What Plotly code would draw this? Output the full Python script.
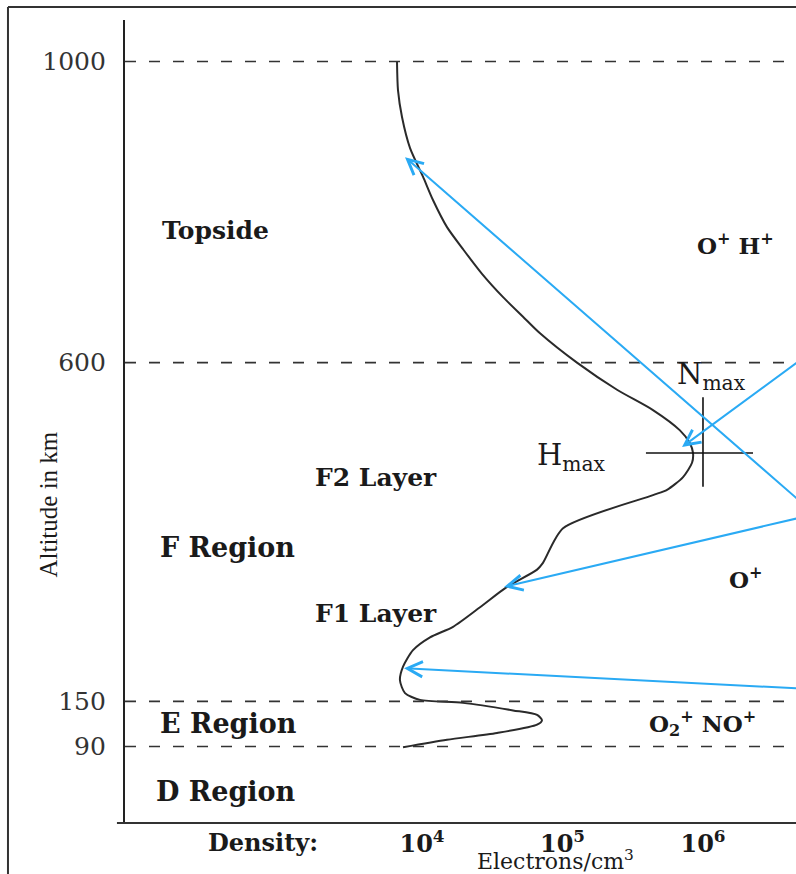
import plotly.graph_objects as go

# Electron density profile of the ionosphere (altitude vs log10 density)
ALT_KM = [1000, 962, 926, 885, 847, 816, 780, 750, 718, 687,
          661, 639, 600, 564, 537, 510, 493, 480, 467, 448,
          431, 424, 380, 334, 325, 302, 275, 249, 235, 218,
          196, 178, 161, 152, 148, 138, 132, 125, 119, 108,
          99, 89]
LOG_NE = [3.822, 3.829, 3.858, 3.915, 4.007, 4.078, 4.178, 4.295, 4.427, 4.577,
          4.719, 4.840, 5.103, 5.388, 5.644, 5.836, 5.907, 5.929, 5.922, 5.858,
          5.744, 5.644, 5.004, 4.861, 4.819, 4.605, 4.413, 4.221, 4.057, 3.936,
          3.865, 3.843, 3.879, 3.986, 4.292, 4.648, 4.819, 4.854, 4.819, 4.534,
          4.178, 3.865]

# Region boundaries (km)
BOUNDARIES = [1000, 600, 150, 90]
BOUNDARY_LABELS = ["1000", "600", "150", "90"]

# Density decades on the x axis
DECADES = [1e4, 1e5, 1e6]
DECADE_LABELS = ["<b>10<sup>4</sup></b>", "<b>10<sup>5</sup></b>", "<b>10<sup>6</sup></b>"]

# Peak of the F2 layer
N_MAX = 1e6
H_MAX = 480

# Pointer arrows: tip (log10 density, km) and tail (log10 density, km)
ARROW_TIP_LOG = [3.879, 5.851, 4.584, 3.872]
ARROW_TIP_KM = [873, 488, 302, 194]
ARROW_TAIL_LOG = [6.69, 6.69, 6.69, 6.69]
ARROW_TAIL_KM = [416, 603, 394, 167]

SERIF = "DejaVu Serif"
INK = "#2a2a2a"
BLUE = "#2aaaf4"

fig = go.Figure()

# Profile curve
fig.add_trace(go.Scatter(
    x=[10 ** v for v in LOG_NE], y=ALT_KM, mode="lines",
    line=dict(color=INK, width=2, shape="spline", smoothing=0.7),
    hoverinfo="skip", showlegend=False))

# Nmax / Hmax cross
fig.add_trace(go.Scatter(
    x=[N_MAX, N_MAX], y=[H_MAX - 45, H_MAX + 74], mode="lines",
    line=dict(color="#111", width=1.6), hoverinfo="skip", showlegend=False))
fig.add_trace(go.Scatter(
    x=[N_MAX * 10 ** -0.406, N_MAX * 10 ** 0.356], y=[H_MAX, H_MAX], mode="lines",
    line=dict(color="#111", width=1.6), hoverinfo="skip", showlegend=False))

shapes = []
for b in BOUNDARIES:
    shapes.append(dict(type="line", xref="paper", yref="y", x0=0, x1=1, y0=b, y1=b,
                       line=dict(color="#333", width=1.6, dash="11px,13px")))
# x axis baseline (slightly overshooting the y axis)
shapes.append(dict(type="line", xref="paper", yref="paper", x0=-0.012, x1=1, y0=0, y1=0,
                   line=dict(color="#333", width=2.2)))
# outer frame
shapes.append(dict(type="line", xref="paper", yref="paper", x0=-0.1744, x1=-0.1744,
                   y0=1.0162, y1=-0.07, line=dict(color="#333", width=2)))
shapes.append(dict(type="line", xref="paper", yref="paper", x0=-0.1744, x1=1.01,
                   y0=1.0162, y1=1.0162, line=dict(color="#333", width=2)))

ann = []


def label(text, x, y, size, xanchor="left", bold=True, color="#1a1a1a"):
    ann.append(dict(text=f"<b>{text}</b>" if bold else text, x=x, y=y, xref="x", yref="y",
                    xanchor=xanchor, yanchor="middle", showarrow=False,
                    font=dict(family=SERIF, size=size, color=color)))


label("Topside", 2.135, 775, 25)
label("F2 Layer", 3.224, 447, 25)
label("F Region", 2.121, 355, 27)
label("F1 Layer", 3.224, 267, 25)
label("E Region", 2.121, 120, 27)
label("D Region", 2.093, 30, 27)
label("O<sup>+</sup> H<sup>+</sup>", 6.228, 758, 23, xanchor="center")
label("O<sup>+</sup>", 6.306, 314, 23, xanchor="center")
label("O<sub>2</sub><sup>+</sup> NO<sup>+</sup>", 5.993, 121, 23, xanchor="center")
label("N<sub>max</sub>", 5.800, 582, 29, bold=False)
label("H<sub>max</sub>", 4.805, 475, 29, bold=False)

for tl, tk, al, ak in zip(ARROW_TIP_LOG, ARROW_TIP_KM, ARROW_TAIL_LOG, ARROW_TAIL_KM):
    ann.append(dict(x=tl, y=tk, xref="x", yref="y", ax=al, ay=ak, axref="x", ayref="y",
                    text="", showarrow=True, arrowhead=5, arrowsize=1.5, arrowwidth=2,
                    arrowcolor=BLUE, standoff=0))

ann.append(dict(text="<b>Density:</b>", x=0.2057, y=-0.0249, xref="paper", yref="paper",
                xanchor="center", yanchor="middle", showarrow=False,
                font=dict(family=SERIF, size=24, color="#1a1a1a")))
ann.append(dict(text="Electrons/cm<sup>3</sup>", x=0.6423, y=-0.0455, xref="paper", yref="paper",
                xanchor="center", yanchor="middle", showarrow=False,
                font=dict(family=SERIF, size=22, color="#1a1a1a")))
ann.append(dict(text="Altitude in km", x=-0.114, y=0.396, xref="paper", yref="paper",
                xanchor="center", yanchor="middle", showarrow=False, textangle=-90,
                font=dict(family="Liberation Serif", size=25, color="#1a1a1a")))

fig.update_layout(
    width=796, height=874,
    margin=dict(l=125, r=0, t=20, b=51),
    paper_bgcolor="white", plot_bgcolor="white",
    shapes=shapes, annotations=ann, showlegend=False,
    xaxis=dict(type="log", range=[1.886, 6.662], showgrid=False, zeroline=False,
               showline=False, ticks="", tickvals=DECADES, ticktext=DECADE_LABELS,
               tickfont=dict(family=SERIF, size=24, color="#1a1a1a"),
               ticklabelstandoff=4),
    yaxis=dict(range=[-11.6, 1055.2], showgrid=False, zeroline=False,
               showline=True, linecolor="#222", linewidth=2.2, ticks="",
               tickvals=BOUNDARIES, ticktext=BOUNDARY_LABELS,
               tickfont=dict(family=SERIF, size=25, color="#333"),
               ticklabelstandoff=12),
)

fig.write_html("out.html")
